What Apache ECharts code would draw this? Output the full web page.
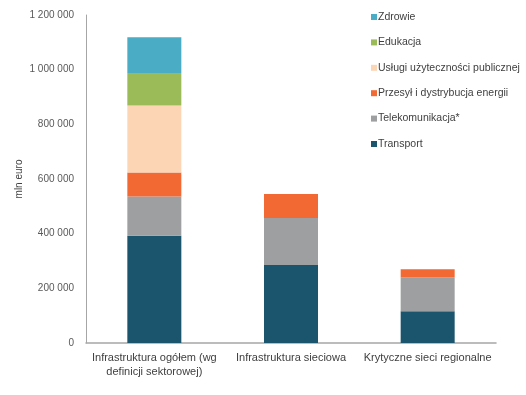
<!DOCTYPE html>
<html>
<head>
<meta charset="utf-8">
<script src="https://cdn.jsdelivr.net/npm/echarts@6/dist/echarts.min.js"></script>
<style>html,body{margin:0;padding:0;background:#fff}#c{width:526px;height:395px}</style>
</head>
<body>
<div id="c"></div>
<script>
const categories = ['Infrastruktura ogółem (wg\ndefinicji sektorowej)', 'Infrastruktura sieciowa', 'Krytyczne sieci regionalne'];
const transport = [392000, 285000, 116000];
const telekom = [144000, 172000, 125000];
const przesyl = [88000, 88000, 29000];
const uslugi = [245000, 0, 0];
const edukacja = [119000, 0, 0];
const zdrowie = [131000, 0, 0];
const yTicks = [0, 200000, 400000, 600000, 800000, 1000000, 1200000];

const seriesDefs = [
  {name: 'Transport', data: transport, color: '#1a556d'},
  {name: 'Telekomunikacja*', data: telekom, color: '#9d9fa1'},
  {name: 'Przesył i dystrybucja energii', data: przesyl, color: '#f26934'},
  {name: 'Usługi użyteczności publicznej', data: uslugi, color: '#fcd5b5'},
  {name: 'Edukacja', data: edukacja, color: '#9bbb59'},
  {name: 'Zdrowie', data: zdrowie, color: '#4bacc6'}
];

const chart = echarts.init(document.getElementById('c'), null, {renderer: 'canvas'});
chart.setOption({
  animation: false,
  textStyle: {fontFamily: 'Liberation Sans, Arial, sans-serif'},
  grid: {left: 86, right: 30, top: 15, bottom: 52},
  legend: {
    orient: 'vertical', left: 366, top: 6.5,
    itemWidth: 6, itemHeight: 6, itemGap: 14.4,
    icon: 'rect',
    data: seriesDefs.map(s => s.name).reverse(),
    textStyle: {fontSize: 10.5, color: '#404040', padding: [0, 0, 0, -4]}
  },
  xAxis: {
    type: 'category', data: categories,
    axisLine: {lineStyle: {color: '#a6a6a6', width: 1.5}},
    axisTick: {show: false},
    axisLabel: {fontSize: 11, color: '#404040', margin: 8, lineHeight: 14, interval: 0}
  },
  yAxis: {
    type: 'value', min: 0, max: 1200000, interval: 200000,
    name: 'mln euro', nameLocation: 'middle', nameGap: 62, nameRotate: 90,
    nameMoveOverlap: false,
    nameTextStyle: {fontSize: 10, color: '#404040'},
    axisLine: {show: true, lineStyle: {color: '#a6a6a6', width: 1}},
    axisTick: {show: false},
    splitLine: {show: false},
    axisLabel: {fontSize: 10, color: '#595959', margin: 12,
      formatter: v => String(v).replace(/\B(?=(\d{3})+(?!\d))/g, ' ')}
  },
  series: seriesDefs.map(s => ({
    name: s.name, type: 'bar', stack: 'total', data: s.data,
    barWidth: 54,
    itemStyle: {color: s.color}
  }))
});
</script>
</body>
</html>
